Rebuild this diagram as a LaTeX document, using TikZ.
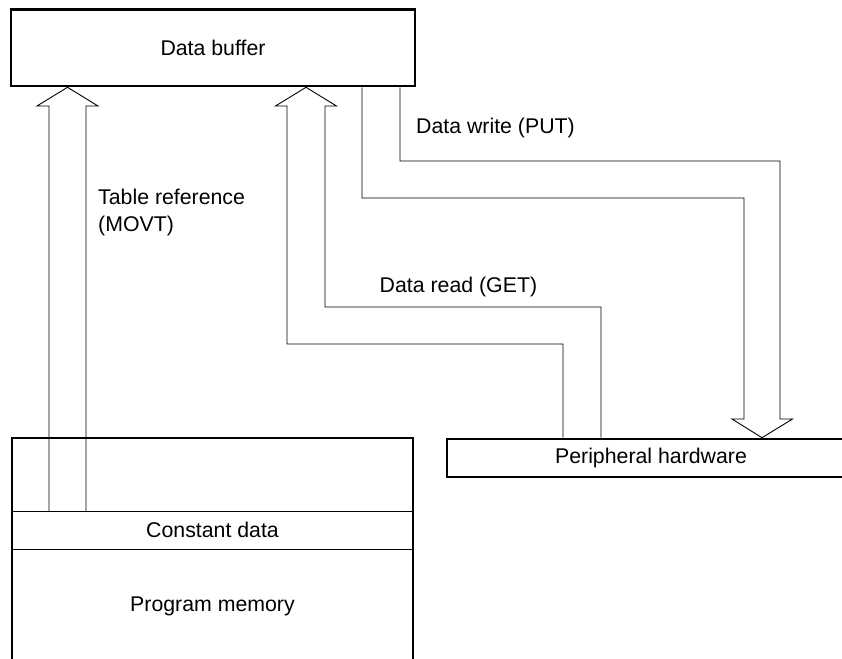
\documentclass[tikz,border=0pt]{standalone}
\usepackage{fontspec}
\setmainfont{Liberation Sans}
\begin{document}
\begin{tikzpicture}[x=1pt,y=-1pt,
  box/.style={draw, line width=2.6pt, inner sep=0pt},
  thinline/.style={line width=0.9pt},
  blockarrow/.style={draw, line width=0.9pt, line join=miter},
  lbl/.style={inner sep=0pt, font=\fontsize{21.3}{27}\selectfont}]
\useasboundingbox (0,0) rectangle (842,658);
% boxes
\node[box, lbl, minimum width=404pt, minimum height=76.5pt] (buf) at (213,47.75) {Data buffer};
\node[box, minimum width=401pt, minimum height=225pt] (pm) at (212.5,550.5) {};
\node[box, lbl, minimum width=408pt, minimum height=38pt] (per) at (651,458) {Peripheral hardware};
% constant data band
\draw[thinline] (pm.west |- 0,511) coordinate (cdtl) -- (pm.east |- 0,511) coordinate (cdtr);
\draw[thinline] (pm.west |- 0,549) -- (pm.east |- 0,549);
\node[lbl] (cd) at (212.5,530) {Constant data};
\node[lbl] (pmtxt) at (212.5,606) {Program memory};
% table reference arrow
\draw[blockarrow] (49,0 |- cdtl) -- (49,106) -- (37,106) -- (67.5,0 |- buf.south)
  -- (98,106) -- (86,106) -- (86,0 |- cdtl);
% data read arrow
\draw[blockarrow] (601,0 |- per.north) -- (601,307) -- (325,307) -- (325,106) -- (336.5,106)
  -- (306,0 |- buf.south) -- (275.5,106) -- (287,106) -- (287,344) -- (563,344) -- (563,0 |- per.north);
% data write arrow
\draw[blockarrow] (362,0 |- buf.south) -- (362,198) -- (744,198) -- (744,419) -- (732,419)
  -- (762,0 |- per.north) -- (792.5,419) -- (780,419) -- (780,161) -- (400,161) -- (400,0 |- buf.south);
% labels
\node[lbl, anchor=west, align=left] (tref) at (98,212) {Table reference\\(MOVT)};
\node[lbl, anchor=base west] (wlbl) at (416,133) {Data write (PUT)};
\node[lbl, anchor=base west] (rlbl) at (379.5,292.5) {Data read (GET)};
\end{tikzpicture}
\end{document}
